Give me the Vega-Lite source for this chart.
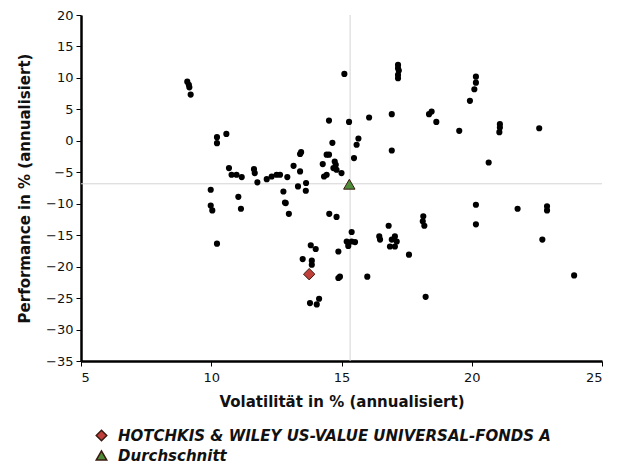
{
  "$schema": "https://vega.github.io/schema/vega-lite/v6.json",
  "autosize": {"type": "none"},
  "padding": {"left": 81, "top": 15, "right": 24, "bottom": 103},
  "width": 521,
  "height": 346,
  "background": "white",
  "config": {
    "view": {"stroke": null},
    "font": "DejaVu Sans",
    "axis": {
      "grid": false,
      "domainColor": "#000",
      "domainWidth": 2.5,
      "tickColor": "#000",
      "tickWidth": 1,
      "tickSize": 5,
      "labelFont": "DejaVu Sans",
      "labelFontSize": 13,
      "labelColor": "#111",
      "labelOverlap": false,
      "titleFont": "DejaVu Sans",
      "titleFontSize": 15,
      "titleFontWeight": "bold",
      "titleColor": "#111"
    },
    "legend": {
      "labelFont": "DejaVu Sans",
      "labelFontSize": 15,
      "labelFontStyle": "italic",
      "labelFontWeight": "bold",
      "labelColor": "#111",
      "labelLimit": 0,
      "labelOffset": 9,
      "padding": 0
    }
  },
  "layer": [
    {
      "data": {"values": [{"vx": 15.33}]},
      "mark": {"type": "rule", "color": "#d4d4d4", "strokeWidth": 1},
      "encoding": {"x": {"field": "vx", "type": "quantitative", "scale": {"domain": [5, 25], "nice": false, "zero": false},
              "axis": {"title": "Volatilität in % (annualisiert)", "values": [5, 10, 15, 20, 25], "tickCount": 20, "titlePadding": 10, "labelPadding": 5}}}
    },
    {
      "data": {"values": [{"vy": -6.83}]},
      "mark": {"type": "rule", "color": "#d4d4d4", "strokeWidth": 1},
      "encoding": {"y": {"field": "vy", "type": "quantitative", "scale": {"domain": [-35, 20], "nice": false, "zero": false},
              "axis": {"title": "Performance in % (annualisiert)", "values": [-35, -30, -25, -20, -15, -10, -5, 0, 5, 10, 15, 20], "tickCount": 20, "titlePadding": 13, "labelPadding": 3, "labelOverlap": false}}}
    },
    {
      "data": {"values": [
        {"vol": 9.08, "perf": 9.4}, {"vol": 9.14, "perf": 8.9}, {"vol": 9.16, "perf": 8.5}, {"vol": 9.21, "perf": 7.35},
        {"vol": 15.11, "perf": 10.63}, {"vol": 14.52, "perf": 3.22}, {"vol": 15.29, "perf": 3.0}, {"vol": 16.06, "perf": 3.7},
        {"vol": 10.22, "perf": 0.58}, {"vol": 10.22, "perf": -0.37}, {"vol": 10.58, "perf": 1.1}, {"vol": 14.65, "perf": -0.32},
        {"vol": 15.65, "perf": 0.37}, {"vol": 15.58, "perf": -0.63}, {"vol": 13.45, "perf": -1.8}, {"vol": 13.41, "perf": -2.1},
        {"vol": 15.48, "perf": -2.75}, {"vol": 14.43, "perf": -2.2}, {"vol": 14.52, "perf": -2.2}, {"vol": 14.28, "perf": -3.7},
        {"vol": 14.74, "perf": -3.3}, {"vol": 14.78, "perf": -3.8}, {"vol": 14.69, "perf": -4.33}, {"vol": 14.81, "perf": -4.6},
        {"vol": 15.0, "perf": -5.13}, {"vol": 14.43, "perf": -5.4}, {"vol": 14.33, "perf": -5.67}, {"vol": 13.16, "perf": -3.97},
        {"vol": 13.41, "perf": -4.87}, {"vol": 10.68, "perf": -4.33}, {"vol": 10.78, "perf": -5.4}, {"vol": 10.97, "perf": -5.4},
        {"vol": 11.17, "perf": -5.77}, {"vol": 11.64, "perf": -4.5}, {"vol": 11.67, "perf": -5.13}, {"vol": 11.77, "perf": -6.6},
        {"vol": 12.13, "perf": -6.1}, {"vol": 12.32, "perf": -5.67}, {"vol": 12.51, "perf": -5.4}, {"vol": 12.64, "perf": -5.4},
        {"vol": 12.92, "perf": -5.77}, {"vol": 13.33, "perf": -7.25}, {"vol": 13.64, "perf": -6.7}, {"vol": 13.63, "perf": -7.94},
        {"vol": 12.77, "perf": -8.05}, {"vol": 12.86, "perf": -9.9}, {"vol": 9.98, "perf": -7.78}, {"vol": 9.98, "perf": -10.3},
        {"vol": 10.04, "perf": -11.06}, {"vol": 11.04, "perf": -8.9}, {"vol": 11.14, "perf": -10.8}, {"vol": 12.83, "perf": -9.8},
        {"vol": 12.98, "perf": -11.6}, {"vol": 14.53, "perf": -11.6}, {"vol": 14.81, "perf": -12.1},
        {"vol": 10.22, "perf": -16.35}, {"vol": 13.82, "perf": -16.6}, {"vol": 14.01, "perf": -17.2}, {"vol": 14.88, "perf": -17.6},
        {"vol": 15.39, "perf": -14.5}, {"vol": 15.2, "perf": -16.0}, {"vol": 15.39, "perf": -16.0}, {"vol": 15.52, "perf": -16.1},
        {"vol": 15.26, "perf": -16.7}, {"vol": 13.51, "perf": -18.8}, {"vol": 13.86, "perf": -19.05}, {"vol": 13.86, "perf": -19.7},
        {"vol": 14.88, "perf": -21.8}, {"vol": 14.94, "perf": -21.6}, {"vol": 15.99, "perf": -21.6}, {"vol": 13.79, "perf": -25.8},
        {"vol": 14.05, "perf": -26.0}, {"vol": 14.14, "perf": -25.1}, {"vol": 17.17, "perf": 12.06}, {"vol": 17.17, "perf": 11.54},
        {"vol": 17.2, "perf": 11.16}, {"vol": 17.17, "perf": 10.48}, {"vol": 17.17, "perf": 9.95}, {"vol": 20.16, "perf": 10.2},
        {"vol": 20.16, "perf": 9.25}, {"vol": 20.1, "perf": 8.2}, {"vol": 19.93, "perf": 6.35}, {"vol": 16.93, "perf": 4.24},
        {"vol": 18.36, "perf": 4.24}, {"vol": 18.46, "perf": 4.65}, {"vol": 18.64, "perf": 3.0}, {"vol": 19.52, "perf": 1.59},
        {"vol": 21.08, "perf": 2.65}, {"vol": 21.08, "perf": 2.11}, {"vol": 21.06, "perf": 1.38}, {"vol": 22.59, "perf": 2.0},
        {"vol": 16.93, "perf": -1.54}, {"vol": 20.65, "perf": -3.44}, {"vol": 20.16, "perf": -10.16}, {"vol": 21.76, "perf": -10.8},
        {"vol": 22.89, "perf": -10.4}, {"vol": 22.89, "perf": -11.06}, {"vol": 20.16, "perf": -13.28}, {"vol": 18.14, "perf": -12.0},
        {"vol": 18.12, "perf": -12.8}, {"vol": 18.18, "perf": -13.5}, {"vol": 16.81, "perf": -13.5}, {"vol": 16.45, "perf": -15.2},
        {"vol": 16.48, "perf": -15.7}, {"vol": 16.93, "perf": -15.7}, {"vol": 17.05, "perf": -15.2}, {"vol": 17.12, "perf": -16.0},
        {"vol": 16.86, "perf": -16.8}, {"vol": 17.05, "perf": -16.8}, {"vol": 17.59, "perf": -18.1}, {"vol": 22.71, "perf": -15.7},
        {"vol": 23.93, "perf": -21.4}, {"vol": 18.23, "perf": -24.8}
      ]},
      "mark": {"type": "circle", "color": "#000", "opacity": 1, "size": 38},
      "encoding": {
        "x": {"field": "vol", "type": "quantitative"},
        "y": {"field": "perf", "type": "quantitative"}
      }
    },
    {
      "data": {"values": [
        {"vol": 13.76, "perf": -21.2, "name": "HOTCHKIS & WILEY US-VALUE UNIVERSAL-FONDS A"},
        {"vol": 15.3, "perf": -6.9, "name": "Durchschnitt"}
      ]},
      "mark": {"type": "point", "filled": true, "opacity": 1, "stroke": "#3a1a10", "strokeWidth": 1, "size": 130},
      "encoding": {
        "x": {"field": "vol", "type": "quantitative"},
        "y": {"field": "perf", "type": "quantitative"},
        "shape": {"field": "name", "type": "nominal",
                  "scale": {"domain": ["HOTCHKIS & WILEY US-VALUE UNIVERSAL-FONDS A", "Durchschnitt"], "range": ["diamond", "triangle-up"]},
                  "legend": {"title": null, "orient": "none", "legendX": 13, "legendY": 413, "direction": "vertical", "rowPadding": 3, "symbolSize": 110, "symbolStrokeColor": "#3a1a10"}},
        "color": {"field": "name", "type": "nominal",
                  "scale": {"domain": ["HOTCHKIS & WILEY US-VALUE UNIVERSAL-FONDS A", "Durchschnitt"], "range": ["#c0413b", "#4e8c3a"]},
                  "legend": {"title": null, "orient": "none", "legendX": 13, "legendY": 413, "direction": "vertical", "rowPadding": 3, "symbolSize": 110, "symbolStrokeColor": "#3a1a10"}}
      }
    }
  ]
}
